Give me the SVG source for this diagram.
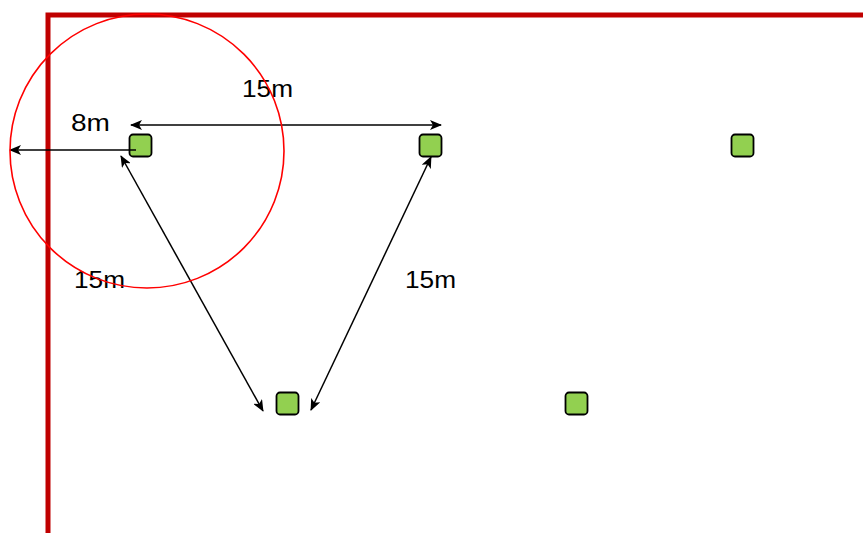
<svg xmlns="http://www.w3.org/2000/svg" width="863" height="533" viewBox="0 0 863 533">
<style>
.node{fill:#92D050;stroke:#000;stroke-width:1.8}
.conn{fill:none;stroke:#000;stroke-width:1.5}
.lbl{font-family:"Liberation Sans",Arial,sans-serif;font-size:23px;fill:#000}
.wall{fill:none;stroke:#C00000;stroke-width:5}
</style>
<defs>
<marker id="ah" viewBox="0 0 12 10" refX="11" refY="5" markerWidth="12" markerHeight="10" markerUnits="userSpaceOnUse" orient="auto-start-reverse">
<path d="M0,0 L12,5 L0,10 L3,5 z" fill="#000"/>
</marker>
</defs>
<rect width="863" height="533" fill="#fff"/>
<g id="wall">
<path class="wall" d="M48,533 V15 H863"/>
</g>
<g id="n1"><rect class="node" x="129.5" y="134.5" width="22" height="22" rx="3.5"/></g>
<g id="n2"><rect class="node" x="419.5" y="134.5" width="22" height="22" rx="3.5"/></g>
<g id="n3"><rect class="node" x="731.5" y="134.5" width="22" height="22" rx="3.5"/></g>
<g id="n4"><rect class="node" x="276.5" y="392.5" width="22" height="22" rx="3.5"/></g>
<g id="n5"><rect class="node" x="565.5" y="392.5" width="22" height="22" rx="3.5"/></g>
<g id="connectors">
<line class="conn" x1="131" y1="125" x2="441" y2="125" marker-start="url(#ah)" marker-end="url(#ah)"/>
<line class="conn" x1="136" y1="150" x2="10" y2="150" marker-end="url(#ah)"/>
<line class="conn" x1="121" y1="156" x2="263" y2="411" marker-start="url(#ah)" marker-end="url(#ah)"/>
<line class="conn" x1="431" y1="157" x2="311" y2="410" marker-start="url(#ah)" marker-end="url(#ah)"/>
</g>
<g id="labels">
<text class="lbl" x="242" y="97" textLength="51" lengthAdjust="spacingAndGlyphs">15m</text>
<text class="lbl" x="71" y="131" textLength="39" lengthAdjust="spacingAndGlyphs">8m</text>
<text class="lbl" x="74" y="288" textLength="51" lengthAdjust="spacingAndGlyphs">15m</text>
<text class="lbl" x="405" y="288" textLength="51" lengthAdjust="spacingAndGlyphs">15m</text>
</g>
<g id="range">
<circle cx="147" cy="151" r="137" fill="none" stroke="#FF0000" stroke-width="1.6"/>
</g>
</svg>
